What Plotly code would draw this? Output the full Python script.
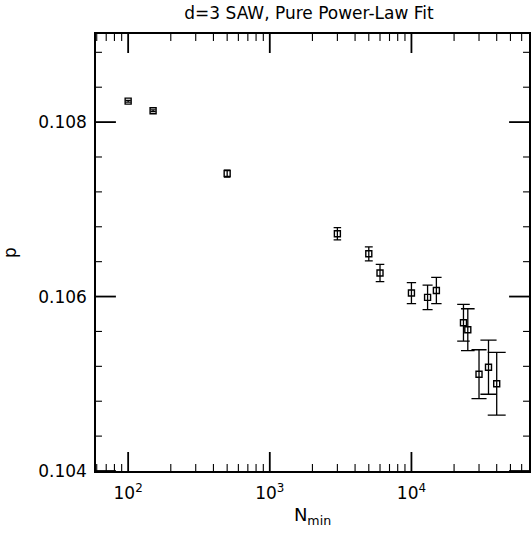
import plotly.graph_objects as go

n_min = [100, 150, 500, 3000, 5000, 6000, 10000, 13000, 15000, 23300, 25000, 30000, 35000, 40000]
p_val = [0.10824, 0.10813, 0.10741, 0.10672, 0.10649, 0.10627, 0.10604, 0.10599, 0.10607,
         0.10570, 0.10562, 0.10511, 0.10519, 0.10500]
p_err = [0.00001, 0.00001, 0.00004, 0.00007, 0.00008, 0.00010, 0.00012, 0.00014, 0.00015,
         0.00021, 0.00024, 0.00028, 0.00031, 0.00036]

x_tickvals = [100, 1000, 10000]
x_ticktext = ["10<sup>2</sup>", "10<sup>3</sup>", "10<sup>4</sup>"]
y_tickvals = [0.104, 0.106, 0.108]
y_ticktext = ["0.104", "0.106", "0.108"]

X_RANGE = [1.773, 4.83]
Y_RANGE = [0.104, 0.10901]
x_minor = [m * 10 ** d for d in (1, 2, 3, 4) for m in range(2, 10)
           if 10 ** X_RANGE[0] < m * 10 ** d < 10 ** X_RANGE[1]]
y_minor = [round(0.104 + 0.0004 * k, 5) for k in range(1, 13) if k % 5 != 0]

W, H = 531, 535
ML, MR, MT, MB = 96, 0, 34, 64
PW, PH = W - ML - MR, H - MT - MB

FONT = "DejaVu Sans"
fig = go.Figure()
for xv, yv, ev in zip(n_min, p_val, p_err):
    fig.add_trace(go.Scatter(
        x=[xv], y=[yv], mode="markers",
        marker=dict(symbol="square-open", size=6, color="black", line=dict(width=1.4)),
        error_y=dict(type="data", array=[ev], visible=True, color="black",
                     thickness=1.3, width=2.5 + 18000 * ev),
        showlegend=False, hoverinfo="skip"))

# tick marks drawn inside the frame on all four sides
shapes = []
def xtick(v, length, w):
    f = length / PH
    for a, b in ((0, f), (1 - f, 1)):
        shapes.append(dict(type="line", xref="x", yref="y domain", x0=v, x1=v, y0=a, y1=b,
                           line=dict(color="black", width=w), layer="above"))
def ytick(v, length, w):
    f = length / PW
    for a, b in ((0, f), (1 - f, 1)):
        shapes.append(dict(type="line", xref="x domain", yref="y", x0=a, x1=b, y0=v, y1=v,
                           line=dict(color="black", width=w), layer="above"))
for v in x_tickvals:
    xtick(v, 19, 1.8)
for v in x_minor:
    xtick(v, 7, 1.1)
for v in y_tickvals:
    ytick(v, 20, 1.8)
for v in y_minor:
    ytick(v, 6, 1.1)

fig.update_layout(
    width=W, height=H,
    margin=dict(l=ML, r=MR, t=MT, b=MB),
    paper_bgcolor="white", plot_bgcolor="white",
    font=dict(family=FONT, color="black", size=16),
    title=dict(text="d=3 SAW, Pure Power-Law Fit", x=309/531, xanchor="center",
               y=1 - 13/535, yanchor="middle", font=dict(size=17, family=FONT)),
    shapes=shapes,
    xaxis=dict(
        type="log", range=X_RANGE,
        tickvals=x_tickvals, ticktext=x_ticktext, ticks="",
        ticklabelstandoff=6,
        showline=True, linecolor="black", linewidth=1.5, mirror=True,
        showgrid=False, zeroline=False,
        tickfont=dict(size=17),
        title=dict(text="N<sub>min</sub>", font=dict(size=18), standoff=6),
    ),
    yaxis=dict(
        range=Y_RANGE,
        tickvals=y_tickvals, ticktext=y_ticktext, ticks="",
        ticklabelstandoff=4,
        showline=True, linecolor="black", linewidth=1.5, mirror=True,
        showgrid=False, zeroline=False,
        tickfont=dict(size=17),
        title=dict(text="p", font=dict(size=17), standoff=18),
    ),
)
fig.write_html("out.html")
